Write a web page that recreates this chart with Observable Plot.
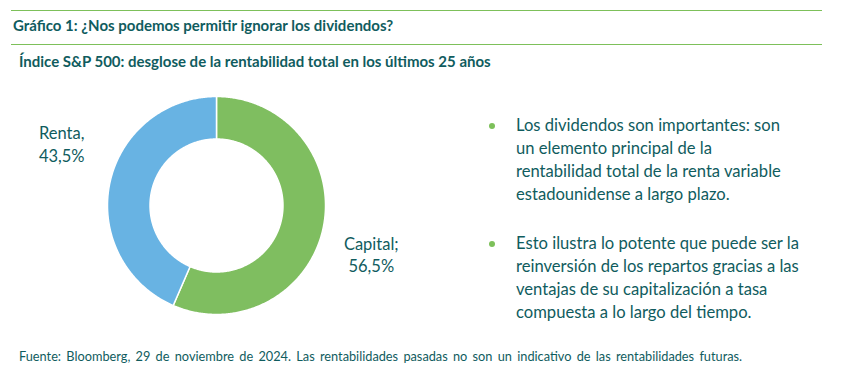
<!DOCTYPE html>
<html>
<head>
<meta charset="utf-8">
<script src="https://cdn.jsdelivr.net/npm/d3@7"></script>
<script src="https://cdn.jsdelivr.net/npm/@observablehq/plot@0.6"></script>
<style>
  html, body { margin: 0; padding: 0; background: #fff; }
  #page { position: relative; width: 860px; height: 378px; font-family: Lato, "Noto Sans", sans-serif; color: #105c5e; overflow: hidden; }
  .rule { position: absolute; left: 11px; width: 811px; height: 0; border-top: 1.5px solid #7dc05a; }
  #title { position: absolute; left: 13px; top: 16px; font-size: 15px; font-weight: bold; white-space: nowrap; }
  #subtitle { position: absolute; left: 19px; top: 52px; font-size: 15px; font-weight: bold; white-space: nowrap; }
  #chart { position: absolute; left: 0; top: 80px; }
  .bullets { position: absolute; left: 516px; font-size: 16.6px; line-height: 23px; white-space: nowrap; }
  .bullets::before { content: ""; position: absolute; left: -27px; top: 9px; width: 6px; height: 6px; border-radius: 50%; background: #7dc05a; }
  #footer { position: absolute; left: 19px; top: 348px; font-size: 12.75px; white-space: nowrap; word-spacing: 2px; }
</style>
</head>
<body>
<div id="page">
  <div class="rule" style="top:10px"></div>
  <div id="title">Gráfico 1: ¿Nos podemos permitir ignorar los dividendos?</div>
  <div class="rule" style="top:44px"></div>
  <div id="subtitle">Índice S&amp;P 500: desglose de la rentabilidad total en los últimos 25 años</div>
  <div id="chart"></div>
  <div class="bullets" id="b1" style="top:114px"></div>
  <div class="bullets" id="b2" style="top:232px"></div>
  <div id="footer">Fuente: Bloomberg, 29 de noviembre de 2024. Las rentabilidades pasadas no son un indicativo de las rentabilidades futuras.</div>
</div>
<script>
// Data
const categories = ["Capital", "Renta"];
const values = [56.5, 43.5];
const labelTexts = ["Capital;\n56,5%", "Renta,\n43,5%"];
const colors = ["#7fbe60", "#68b3e3"];
const bullet1 = ["Los dividendos son importantes: son", "un elemento principal de la", "rentabilidad total de la renta variable", "estadounidense a largo plazo."];
const bullet2 = ["Esto ilustra lo potente que puede ser la", "reinversión de los repartos gracias a las", "ventajas de su capitalización a tasa", "compuesta a lo largo del tiempo."];

document.getElementById("b1").innerHTML = bullet1.join("<br>");
document.getElementById("b2").innerHTML = bullet2.join("<br>");

// Build donut slices (unit coordinates) from values
const inner = 0.61;
const pie = d3.pie().sort(null).value(d => d)(values);
const pts = [];
pie.forEach((p, i) => {
  const n = Math.max(2, Math.ceil((p.endAngle - p.startAngle) / 0.01));
  const ring = [];
  for (let k = 0; k <= n; k++) {
    const a = p.startAngle + (p.endAngle - p.startAngle) * k / n;
    ring.push([Math.sin(a), Math.cos(a)]);
  }
  for (let k = n; k >= 0; k--) {
    const a = p.startAngle + (p.endAngle - p.startAngle) * k / n;
    ring.push([inner * Math.sin(a), inner * Math.cos(a)]);
  }
  ring.push(ring[0]);
  ring.forEach(([x, y]) => pts.push({cat: categories[i], x, y}));
});

// label positions derived from slice centroid angles
const labels = pie.map((p, i) => {
  const a = (p.startAngle + p.endAngle) / 2;
  return {cat: categories[i], text: labelTexts[i], x: 1.45 * Math.sin(a), y: 1.45 * Math.cos(a)};
});
const labelDy = {Capital: 16, Renta: -30};

const R = 109;
const cx = 216, cy = 125;
const W = 430, H = 250;

const chart = Plot.plot({
  width: W,
  height: H,
  marginLeft: cx - R,
  marginRight: W - cx - R,
  marginTop: cy - R,
  marginBottom: H - cy - R,
  x: {domain: [-1, 1], axis: null},
  y: {domain: [-1, 1], axis: null},
  style: {fontFamily: "Lato, 'Noto Sans', sans-serif", overflow: "visible"},
  marks: [
    ...categories.map((c, i) => Plot.line(pts.filter(d => d.cat === c), {
      x: "x", y: "y", fill: colors[i], stroke: "white", strokeWidth: 1.5, curve: "linear"
    })),
    ...categories.map(c => Plot.text(labels.filter(d => d.cat === c), {
      x: "x", y: "y", text: "text", fontSize: 16.5, fill: "#105c5e", lineHeight: 1.35,
      dy: labelDy[c], textAnchor: "middle"
    }))
  ]
});
document.getElementById("chart").appendChild(chart);
</script>
</body>
</html>
